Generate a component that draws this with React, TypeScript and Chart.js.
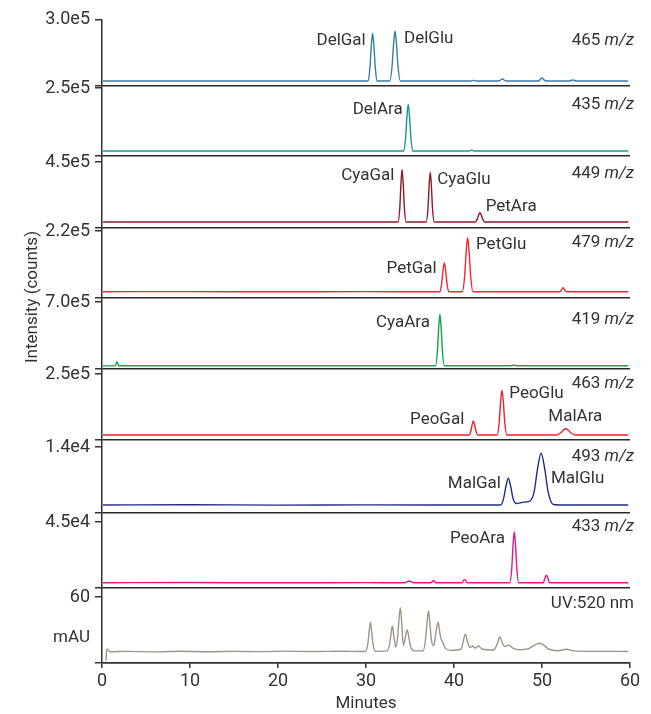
import React, { useEffect, useRef } from 'react';
import { Chart, registerables } from 'chart.js';

Chart.register(...registerables);

// ---------------- data ----------------
const X_TICKS = [0, 10, 20, 30, 40, 50, 60];
const Y_TICK_VALUES = [3.0e5, 2.5e5, 4.5e5, 2.2e5, 7.0e5, 2.5e5, 1.4e4, 4.5e4, 60];
const Y_TICK_LABELS = ['3.0e5', '2.5e5', '4.5e5', '2.2e5', '7.0e5', '2.5e5', '1.4e4', '4.5e4', '60'];
const CHANNELS = ['465', '435', '449', '479', '419', '463', '493', '433', 'UV:520 nm'];
const CHANNEL_LABEL_VALUES = [205300, 187500, 368000, 181600, 512000, 213000, 11940, 41600, 53.6];

type Pt = [number, number];

const trace465: Pt[] = [
  [0.1, 22500], [8, 22800], [16, 22300], [24, 22600], [30.25, 22500], [30.45, 84900], [30.6, 179600],
  [30.75, 237700], [30.9, 179600], [31.05, 84900], [31.25, 22500], [32.7, 22500], [32.96, 87900],
  [33.13, 187100], [33.3, 248000], [33.47, 187100], [33.64, 87900], [33.9, 22500], [41.9, 22500],
  [42.2, 25500], [42.5, 22500], [45.1, 22500], [45.5, 31500], [45.9, 22500], [49.6, 22500], [50.0, 36000],
  [50.4, 22500], [53.1, 22500], [53.5, 27000], [53.9, 22500], [59.8, 22500],
];
const trace435: Pt[] = [
  [0.1, 18400], [10, 18600], [20, 18300], [30, 18500], [34.3, 18400], [34.5, 68200], [34.65, 143700],
  [34.8, 190000], [34.95, 143700], [35.1, 68200], [35.3, 18400], [41.7, 18400], [42.0, 21500],
  [42.3, 18400], [50, 18600], [59.8, 18400],
];
const trace449: Pt[] = [
  [0.1, 40900], [10, 41200], [20, 40700], [30, 41000], [33.65, 40900], [33.84, 137900], [33.97, 299500],
  [34.1, 400000], [34.23, 299500], [34.36, 137900], [34.55, 40900], [36.85, 40900], [37.04, 132500],
  [37.17, 285100], [37.3, 380000], [37.43, 285100], [37.56, 132500], [37.75, 40900], [42.4, 40900],
  [42.63, 58600], [42.79, 87000], [42.95, 104000], [43.11, 87000], [43.27, 58600], [43.5, 40900],
  [50, 41100], [59.8, 40900],
];
const trace479: Pt[] = [
  [0.1, 20700], [10, 20900], [20, 20500], [30, 20800], [38.4, 20700], [38.6, 48300], [38.75, 90200],
  [38.9, 115900], [39.05, 90200], [39.2, 48300], [39.4, 20700], [40.95, 20700], [41.21, 72100],
  [41.38, 150100], [41.55, 198000], [41.72, 150100], [41.89, 72100], [42.15, 20700], [52.0, 20700],
  [52.25, 27500], [52.4, 33800], [52.55, 27500], [52.8, 20700], [59.8, 20700],
];
const trace419: Pt[] = [
  [0.1, 33000], [1.5, 33500], [1.7, 76000], [1.9, 34000], [10, 34200], [20, 33800], [30, 34100],
  [37.9, 34000], [38.12, 195300], [38.26, 431800], [38.4, 571500], [38.54, 431800], [38.68, 195300],
  [38.9, 34000], [46.4, 34000], [46.8, 39000], [47.2, 34000], [59.8, 34000],
];
const trace463: Pt[] = [
  [0.1, 18900], [10, 19100], [20, 18700], [30, 19000], [41.7, 18900], [41.92, 34800], [42.06, 58200],
  [42.2, 72000], [42.34, 58200], [42.48, 34800], [42.7, 18900], [44.9, 18900], [45.13, 66500],
  [45.29, 143100], [45.45, 189000], [45.61, 143100], [45.77, 66500], [46.0, 18900], [51.6, 18900],
  [52.1, 26550], [52.4, 36800], [52.7, 42800], [53.0, 36800], [53.3, 26550], [53.8, 18900], [59.8, 18900],
];
const trace493: Pt[] = [
  [0.1, 1700], [10, 1750], [20, 1680], [30, 1720], [45.3, 1700], [45.63, 3060], [45.9, 5660],
  [46.17, 7360], [46.44, 5660], [46.71, 3060], [47.1, 2000], [47.9, 2300], [48.5, 2400], [49.1, 4440],
  [49.5, 9480], [49.9, 12660], [50.3, 9480], [50.7, 4440], [51.3, 1800], [52, 1700], [59.8, 1700],
];
const trace433: Pt[] = [
  [0.1, 3600], [10, 3700], [20, 3550], [30, 3650], [34.4, 3600], [34.9, 4770], [35.4, 3600],
  [37.35, 3600], [37.65, 4980], [37.95, 3600], [40.9, 3600], [41.2, 5900], [41.5, 3600], [46.35, 3600],
  [46.57, 14040], [46.71, 29350], [46.85, 38400], [46.99, 29350], [47.13, 14040], [47.35, 3600],
  [50.15, 3600], [50.36, 7340], [50.5, 8660], [50.64, 7340], [50.85, 3600], [59.8, 3600],
];
const traceUV: Pt[] = [
  [0.45, 2], [0.55, 12.7], [0.9, 10.2], [3, 10.6], [6, 10.1], [9, 10.7], [12, 10.2], [15, 10.6],
  [18, 10.3], [21, 10.8], [24, 10.4], [27, 10.7], [29.9, 10.4], [30.2, 17], [30.35, 28], [30.5, 37],
  [30.65, 28], [30.8, 17], [31.1, 10.6], [32.4, 11], [32.7, 18], [32.85, 27], [33.0, 33.6], [33.2, 22],
  [33.4, 14.5], [33.6, 24], [33.75, 40], [33.9, 50.3], [34.05, 38], [34.25, 16], [34.45, 22], [34.6, 29],
  [34.7, 30], [34.85, 24], [35.1, 14], [35.5, 11], [36.5, 11.2], [36.8, 24], [36.95, 38], [37.1, 47.3],
  [37.25, 37], [37.45, 20], [37.7, 15.7], [37.95, 28], [38.2, 37], [38.4, 27], [38.55, 21], [38.7, 19.4],
  [39.0, 13.5], [39.6, 11.5], [40.8, 12.5], [41.05, 20], [41.3, 26.1], [41.55, 19], [41.8, 14],
  [42.1, 15.5], [42.4, 13.5], [42.8, 15.5], [43.2, 12.5], [44.5, 11.8], [44.9, 17], [45.2, 23.6],
  [45.5, 18], [45.8, 15], [46.2, 16.4], [46.7, 13.5], [47.5, 12], [48.5, 13], [49.2, 16.5], [49.8, 17.9],
  [50.3, 15.5], [50.8, 12.5], [51.8, 11.2], [52.8, 12.5], [53.6, 11], [56, 10.6], [59.8, 10.5],
];

const TRACES = [trace465, trace435, trace449, trace479, trace419, trace463, trace493, trace433, traceUV];

type Peak = [string, number, number, 'left' | 'right'];
const peaks465: Peak[] = [['DelGal', 29.97, 203900, 'right'], ['DelGlu', 34.32, 212000, 'left']];
const peaks435: Peak[] = [['DelAra', 34.17, 169100, 'right']];
const peaks449: Peak[] = [['CyaGal', 33.22, 358000, 'right'], ['CyaGlu', 38.1, 329300, 'left'], ['PetAra', 43.6, 148000, 'left']];
const peaks479: Peak[] = [['PetGal', 38.03, 97500, 'right'], ['PetGlu', 42.5, 174000, 'left']];
const peaks419: Peak[] = [['CyaAra', 37.27, 488000, 'right']];
const peaks463: Peak[] = [['PeoGal', 41.17, 75800, 'right'], ['PeoGlu', 46.28, 174200, 'left'], ['MalAra', 50.72, 89800, 'left']];
const peaks493: Peak[] = [['MalGal', 45.34, 6300, 'right'], ['MalGlu', 51.02, 7210, 'left']];
const peaks433: Peak[] = [['PeoAra', 45.8, 33900, 'right']];
const peaksUV: Peak[] = [];
const PEAKS = [peaks465, peaks435, peaks449, peaks479, peaks419, peaks463, peaks493, peaks433, peaksUV];

const UV_UNIT = 'mAU';
const UV_UNIT_VALUE = 22.7;

// ---------------- styles / layout ----------------
const COLORS = ['#3b7ca3', '#169a8b', '#8c1b26', '#ec2830', '#15a24c', '#ea2131', '#1f2b8c', '#e3178b', '#a09389'];
const FONT = "Roboto, 'Liberation Sans', sans-serif";
const TEXT = '#333';
const W = 651;
const H = 714;
const PLOT_LEFT = 102;
const PLOT_RIGHT = 630;
const PANEL_TOPS = [19.5, 86, 156, 228, 298, 369, 440, 513, 588];
const PLOT_BOTTOM = 663;
const TICK_OFFSETS = [0, 2, 6, 3, 4, 5, 7, 9, 9];

const annotPlugin = {
  id: 'annot',
  afterDraw(chart: any, _args: any, opts: any) {
    const { ctx, chartArea } = chart;
    const xs = chart.scales.x;
    const ys = chart.scales.y;
    ctx.save();
    ctx.fillStyle = TEXT;
    ctx.textBaseline = 'middle';
    ctx.font = `17px ${FONT}`;
    for (const [text, t, v, align] of opts.peaks as Peak[]) {
      ctx.textAlign = align;
      ctx.fillText(text, xs.getPixelForValue(t), ys.getPixelForValue(v));
    }
    const xr = chartArea.right + 4;
    const yc = ys.getPixelForValue(opts.channelValue);
    ctx.textAlign = 'right';
    if (opts.isUV) {
      ctx.fillText(opts.channel, xr, yc);
    } else {
      ctx.font = `italic 17px ${FONT}`;
      const w = ctx.measureText('m/z').width;
      ctx.fillText('m/z', xr, yc);
      ctx.font = `17px ${FONT}`;
      ctx.fillText(opts.channel + ' ', xr - w, yc);
    }
    if (opts.isUV) {
      ctx.textAlign = 'right';
      ctx.font = `17px ${FONT}`;
      ctx.fillText(UV_UNIT, chartArea.left - 12, ys.getPixelForValue(UV_UNIT_VALUE));
    }
    if (opts.yTitle) {
      ctx.font = `17px ${FONT}`;
      ctx.translate(33, 297);
      ctx.rotate(-Math.PI / 2);
      ctx.textAlign = 'center';
      ctx.fillText('Intensity (counts)', 0, 0);
    }
    ctx.restore();
  },
};

function Panel({ i }: { i: number }) {
  const ref = useRef<HTMLCanvasElement>(null);
  useEffect(() => {
    const isLast = i === 8;
    const top = PANEL_TOPS[i];
    const bottom = isLast ? PLOT_BOTTOM : PANEL_TOPS[i + 1];
    const h = bottom - top;
    const label = Y_TICK_VALUES[i];
    const yMax = (label * h) / (h - TICK_OFFSETS[i]);
    const chart = new Chart(ref.current as HTMLCanvasElement, {
      type: 'line',
      data: {
        datasets: [
          {
            data: TRACES[i].map(([x, y]) => ({ x, y })),
            borderColor: COLORS[i],
            borderWidth: 1.4,
            pointRadius: 0,
            cubicInterpolationMode: 'monotone',
            fill: false,
          },
        ],
      },
      options: {
        animation: false,
        responsive: false,
        events: [],
        layout: { padding: { top, bottom: isLast ? 0 : H - bottom, left: 0, right: W - PLOT_RIGHT } },
        plugins: {
          legend: { display: false },
          tooltip: { enabled: false },
          annot: {
            peaks: PEAKS[i],
            channel: CHANNELS[i],
            channelValue: CHANNEL_LABEL_VALUES[i],
            isUV: isLast,
            yTitle: i === 0,
          },
        } as any,
        scales: {
          x: {
            type: 'linear',
            min: 0,
            max: 60,
            display: isLast,
            afterBuildTicks: (s: any) => {
              s.ticks = X_TICKS.map((v) => ({ value: v }));
            },
            afterFit: (s: any) => {
              if (isLast) s.height = H - PLOT_BOTTOM;
            },
            ticks: { font: { family: FONT, size: 18 }, color: TEXT, padding: 3, maxRotation: 0, autoSkip: false },
            grid: { drawOnChartArea: false, tickLength: 5, color: '#333', tickColor: '#333', lineWidth: 1.5 },
            border: { color: '#333', width: 1.5 },
            title: { display: true, text: 'Minutes', font: { family: FONT, size: 17 }, color: TEXT, padding: { top: 0, bottom: 0 } },
          },
          y: {
            type: 'linear',
            min: 0,
            max: yMax,
            afterBuildTicks: (s: any) => {
              s.ticks = [{ value: 0 }, { value: label }];
            },
            afterFit: (s: any) => {
              s.width = PLOT_LEFT;
            },
            ticks: {
              callback: (_v: any, idx: number) => (idx === 0 ? '' : Y_TICK_LABELS[i]),
              font: { family: FONT, size: 18 },
              color: TEXT,
              padding: 5,
              autoSkip: false,
            },
            grid: {
              color: (c: any) => (c.index === 0 ? '#2a2a2a' : 'rgba(0,0,0,0)'),
              tickColor: '#333',
              tickLength: 7,
              lineWidth: 1.5,
            },
            border: { color: '#333', width: 1.5 },
          },
        },
      } as any,
      plugins: [annotPlugin as any],
    });
    return () => chart.destroy();
  }, [i]);
  return (
    <canvas
      ref={ref}
      width={W}
      height={H}
      style={{ position: 'absolute', left: 0, top: 0, width: W, height: H }}
    />
  );
}

export default function App() {
  return (
    <div style={{ position: 'absolute', left: 0, top: 0, width: W, height: H, background: '#fff' }}>
      {TRACES.map((_, i) => (
        <Panel key={i} i={i} />
      ))}
    </div>
  );
}
